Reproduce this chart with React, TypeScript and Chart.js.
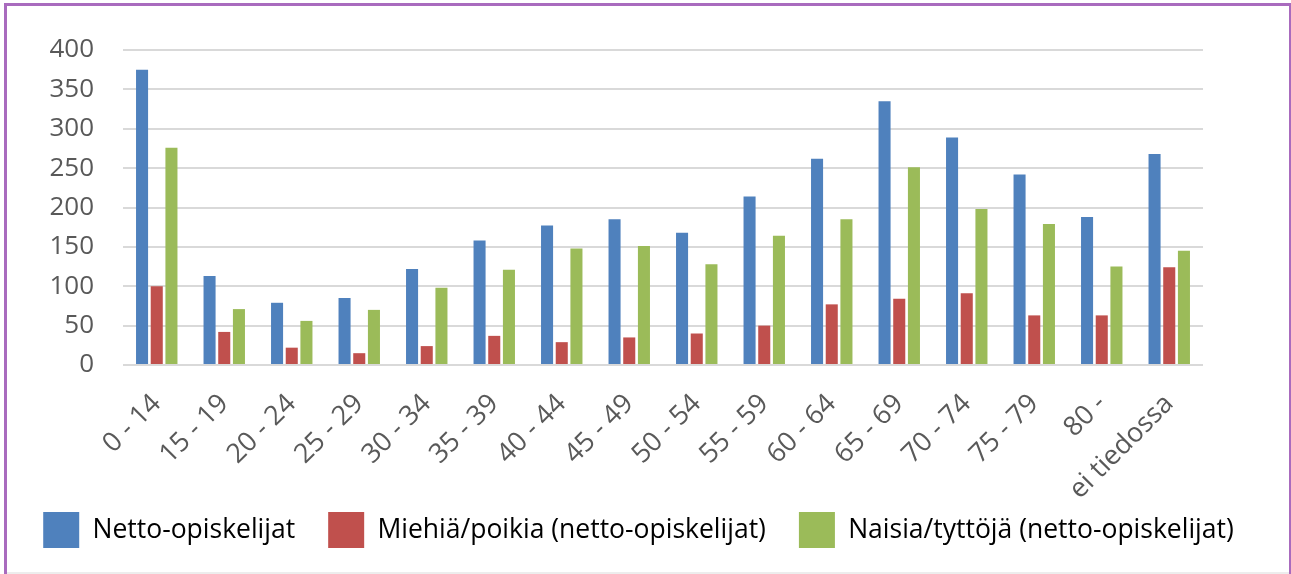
import React, { useEffect, useRef } from "react";
import { Chart, registerables } from "chart.js";

Chart.register(...registerables);

const categories = ["0 - 14", "15 - 19", "20 - 24", "25 - 29", "30 - 34", "35 - 39", "40 - 44", "45 - 49", "50 - 54", "55 - 59", "60 - 64", "65 - 69", "70 - 74", "75 - 79", "80 -", "ei tiedossa"];
const nettoOpiskelijat = [375, 113, 79, 85, 122, 158, 177, 185, 168, 214, 262, 335, 289, 242, 188, 268];
const miehiaPoikia = [100, 42, 22, 15, 24, 37, 29, 35, 40, 50, 77, 84, 91, 63, 63, 124];
const naisiaTyttoja = [276, 71, 56, 70, 98, 121, 148, 151, 128, 164, 185, 251, 198, 179, 125, 145];
const seriesLabels = ["Netto-opiskelijat", "Miehiä/poikia (netto-opiskelijat)", "Naisia/tyttöjä (netto-opiskelijat)"];
const yTicks = [0, 50, 100, 150, 200, 250, 300, 350, 400];

const FONT = "'Open Sans', 'Noto Sans', sans-serif";

export default function App() {
  const ref = useRef<HTMLCanvasElement | null>(null);

  useEffect(() => {
    if (!ref.current) return;
    const chart = new Chart(ref.current, {
      type: "bar",
      data: {
        labels: categories,
        datasets: [
          { label: seriesLabels[0], data: nettoOpiskelijat, backgroundColor: "#4F81BD", borderColor: "#4F81BD", borderWidth: 0 },
          { label: seriesLabels[1], data: miehiaPoikia, backgroundColor: "#C0504D", borderColor: "#C0504D", borderWidth: 0 },
          { label: seriesLabels[2], data: naisiaTyttoja, backgroundColor: "#9BBB59", borderColor: "#9BBB59", borderWidth: 0 },
        ],
      },
      options: {
        animation: false,
        responsive: false,
        maintainAspectRatio: false,
        datasets: { bar: { categoryPercentage: 0.653, barPercentage: 0.82 } },
        layout: { padding: { top: 50, right: 14, bottom: 16, left: 0 } },
        plugins: {
          title: { display: false },
          tooltip: { enabled: false },
          legend: {
            position: "bottom",
            labels: {
              boxWidth: 36,
              boxHeight: 36,
              padding: 33,
              color: "#000000",
              font: { family: FONT, size: 26.5 },
            },
          },
        },
        scales: {
          x: {
            grid: { display: false, drawTicks: false },
            border: { display: false },
            ticks: {
              autoSkip: false,
              maxRotation: 45,
              minRotation: 45,
              padding: 23,
              color: "#595959",
              font: { family: FONT, size: 27 },
            },
            afterFit: (scale: any) => {
              scale.height = 114;
              scale._computeLabelArea = () => undefined;
            },
          },
          y: {
            min: 0,
            max: 400,
            afterBuildTicks: (scale: any) => {
              scale.ticks = yTicks.map((v) => ({ value: v }));
            },
            grid: { color: "#D9D9D9", lineWidth: 2, drawTicks: false },
            border: { display: false },
            ticks: {
              autoSkip: false,
              padding: 29,
              color: "#595959",
              font: { family: FONT, size: 26 },
            },
            afterFit: (scale: any) => {
              scale.width = 123;
            },
          },
          yRight: {
            position: "right",
            display: true,
            min: 0,
            max: 400,
            grid: { display: false, drawTicks: false },
            border: { display: false },
            ticks: { display: false },
            afterFit: (scale: any) => {
              scale.width = 74;
            },
          },
        },
      },
    });
    return () => chart.destroy();
  }, []);

  return (
    <div style={{ position: "absolute", left: 0, top: 0, width: 1291, height: 574, background: "#ffffff", overflow: "hidden" }}>
      <canvas ref={ref} width={1291} height={574} style={{ position: "absolute", left: 0, top: 0, width: 1291, height: 574 }} />
      <div style={{ position: "absolute", left: 4, top: 3, width: 1282, height: 580, border: "3px solid #A96BBE", borderBottom: "none", pointerEvents: "none" }} />
      <div style={{ position: "absolute", left: 7, top: 572, width: 1282, height: 2, background: "#EDEDED" }} />
    </div>
  );
}
